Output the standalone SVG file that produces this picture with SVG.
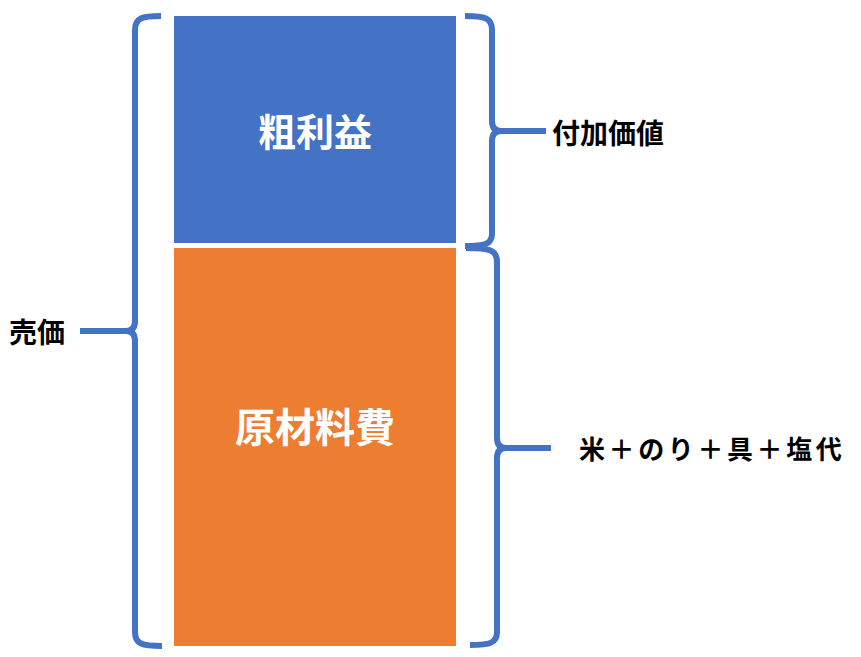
<svg xmlns="http://www.w3.org/2000/svg" width="861" height="657" viewBox="0 0 861 657">
<style>
.brace{fill:none;stroke:#4472C4;stroke-width:6;stroke-linejoin:round}
.in{font-family:"Noto Sans CJK JP",sans-serif;font-weight:bold;fill:#FFFFFF;text-anchor:middle}
.lbl{font-family:"Noto Sans CJK JP",sans-serif;font-weight:bold;fill:#000000}
</style>
<rect width="861" height="657" fill="#FFFFFF"/>
<g id="gross-profit">
<rect x="174" y="16" width="282" height="227" fill="#4472C4"/>
<text class="in" x="315" y="146" font-size="38">粗利益</text>
</g>
<g id="material-cost">
<rect x="174" y="248" width="282" height="398" fill="#ED7D31"/>
<text class="in" x="315" y="442" font-size="40">原材料費</text>
</g>
<g id="connectors">
<path class="brace" d="M161,16 C142,16 135,18 135,30 L135,321 Q135,331 126,331 Q135,331 135,341 L135,632 C135,644 142,646 162,646 M135,331 H80"/>
<path class="brace" d="M465,16 C485,16 492,18 492,30 L492,121 Q492,131 501,131 Q492,131 492,141 L492,234 C492,244 485,246 465,246 M492,131 H546"/>
<path class="brace" d="M466,248 C490,248 497,250 497,262 L497,438 Q497,448 506,448 Q497,448 497,458 L497,632 C497,643 490,645 470,645 M497,448 H551"/>
</g>
<g id="label-value-added">
<text class="lbl" x="552" y="144" font-size="28">付加価値</text>
</g>
<g id="label-price">
<text class="lbl" x="9" y="343" font-size="28">売価</text>
</g>
<g id="label-materials">
<text class="lbl" x="579" y="459" font-size="26" letter-spacing="3.6">米＋のり＋具＋塩代</text>
</g>
</svg>
